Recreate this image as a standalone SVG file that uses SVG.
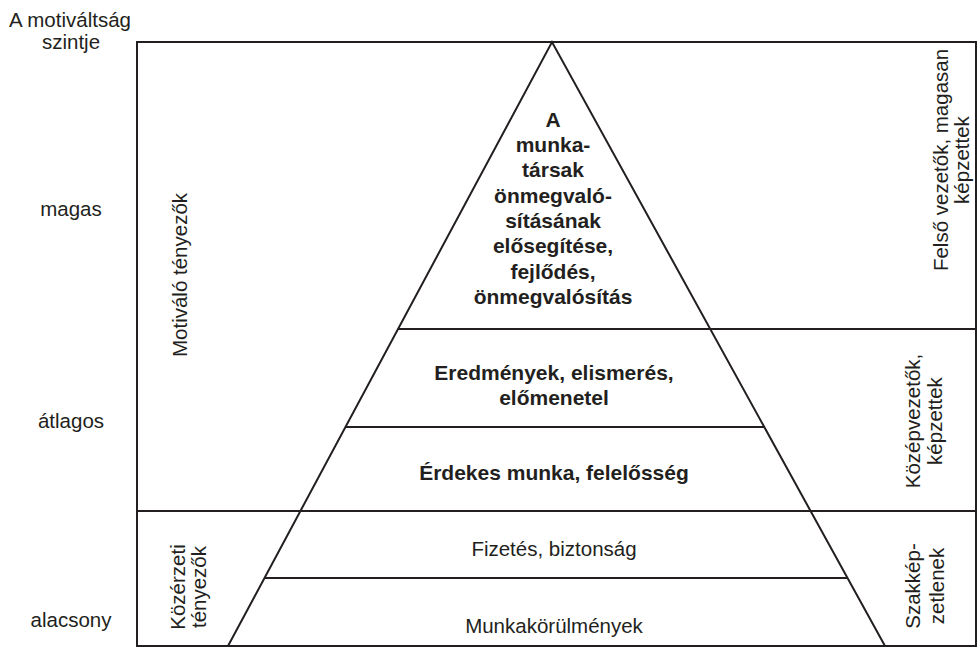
<svg xmlns="http://www.w3.org/2000/svg" width="978" height="649" viewBox="0 0 978 649">
  <style>
    .frame { fill: none; stroke: #231f20; stroke-width: 2; }
    .line { stroke: #231f20; stroke-width: 2; fill: none; }
    text { font-family: "Liberation Sans", Arial, Helvetica, sans-serif; fill: #231f20; }
    .reg { font-size: 20.5px; }
    .bold { font-size: 21px; font-weight: bold; }
    .mid { text-anchor: middle; }
  </style>
  <rect width="978" height="649" fill="#ffffff"/>

  <!-- axis title and level labels -->
  <g id="axis-title">
    <text class="reg mid" x="70" y="27">A motiváltság</text>
    <text class="reg mid" x="71" y="49">szintje</text>
  </g>
  <g id="level-high"><text class="reg mid" x="71" y="216">magas</text></g>
  <g id="level-mid"><text class="reg mid" x="71" y="428">átlagos</text></g>
  <g id="level-low"><text class="reg mid" x="71" y="627">alacsony</text></g>

  <!-- frame and dividing lines -->
  <g id="connectors">
    <rect class="frame" x="137" y="42" width="839" height="604"/>
    <line class="line" x1="137" y1="511" x2="976" y2="511"/>
    <line class="line" x1="398" y1="329" x2="976" y2="329"/>
    <line class="line" x1="345" y1="427" x2="764" y2="427"/>
    <line class="line" x1="265" y1="578" x2="847" y2="578"/>
    <polyline class="line" points="228,646 552,42 885,646"/>
  </g>

  <!-- factor groups on the left -->
  <g id="motivating-factors">
    <text class="reg mid" transform="translate(187,275) rotate(-90)">Motiváló tényezők</text>
  </g>
  <g id="hygiene-factors">
    <text class="reg mid" transform="translate(185,587) rotate(-90)">Közérzeti</text>
    <text class="reg mid" transform="translate(206,587) rotate(-90)">tényezők</text>
  </g>

  <!-- pyramid levels -->
  <g id="level-self-actualisation">
    <text class="bold mid" x="553" y="127">A</text>
    <text class="bold mid" x="553" y="152">munka-</text>
    <text class="bold mid" x="553" y="177">társak</text>
    <text class="bold mid" x="553" y="203">önmegvaló-</text>
    <text class="bold mid" x="553" y="228">sításának</text>
    <text class="bold mid" x="553" y="253">elősegítése,</text>
    <text class="bold mid" x="553" y="279">fejlődés,</text>
    <text class="bold mid" x="553" y="304">önmegvalósítás</text>
  </g>
  <g id="level-recognition">
    <text class="bold mid" x="554" y="380">Eredmények, elismerés,</text>
    <text class="bold mid" x="554" y="405">előmenetel</text>
  </g>
  <g id="level-responsibility">
    <text class="bold mid" x="554" y="480">Érdekes munka, felelősség</text>
  </g>
  <g id="level-pay">
    <text class="reg mid" x="554" y="556">Fizetés, biztonság</text>
  </g>
  <g id="level-conditions">
    <text class="reg mid" x="554" y="633">Munkakörülmények</text>
  </g>

  <!-- staff groups on the right -->
  <g id="staff-senior">
    <text class="reg mid" transform="translate(948,160) rotate(-90)">Felső vezetők, magasan</text>
    <text class="reg mid" transform="translate(969,160) rotate(-90)">képzettek</text>
  </g>
  <g id="staff-middle">
    <text class="reg mid" transform="translate(920,421) rotate(-90)">Középvezetők,</text>
    <text class="reg mid" transform="translate(942,421) rotate(-90)">képzettek</text>
  </g>
  <g id="staff-unskilled">
    <text class="reg mid" transform="translate(920,586) rotate(-90)">Szakkép-</text>
    <text class="reg mid" transform="translate(944,586) rotate(-90)">zetlenek</text>
  </g>
</svg>
